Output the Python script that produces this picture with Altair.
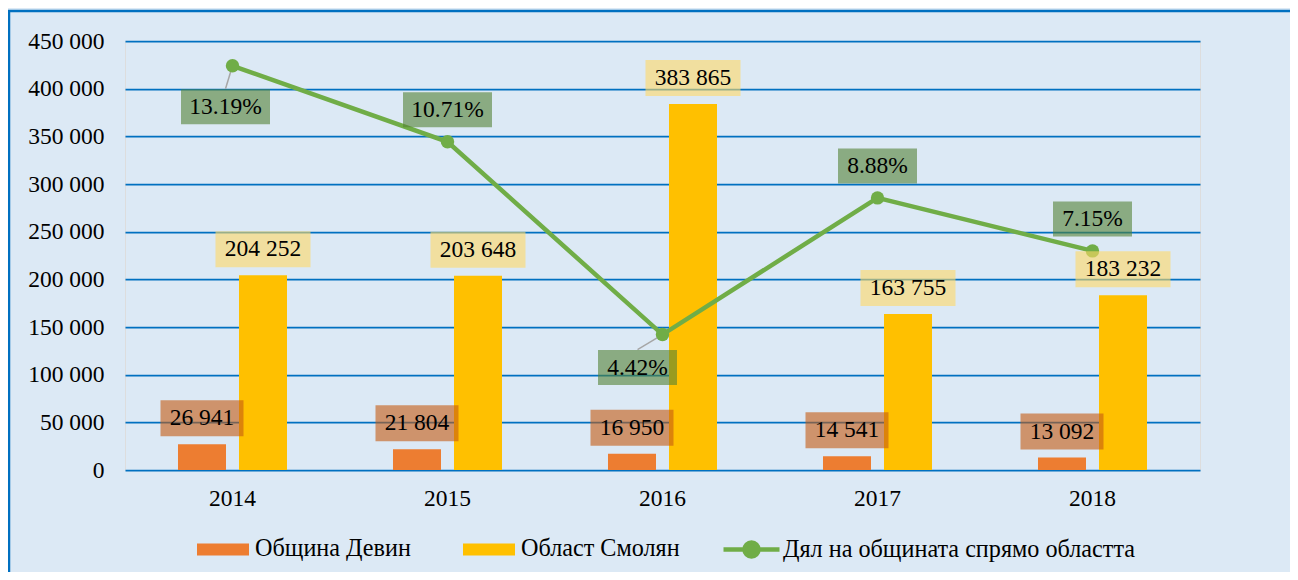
import altair as alt
import pandas as pd

# ---- data ----
years = ["2014", "2015", "2016", "2017", "2018"]
devin = [26941, 21804, 16950, 14541, 13092]
smolyan = [204252, 203648, 383865, 163755, 183232]
share = [0.1319, 0.1071, 0.0442, 0.0888, 0.0715]

S1 = "Община Девин"
S2 = "Област Смолян"
S3 = "Дял на общината спрямо областта"

bars_df = pd.DataFrame({
    "year": years * 2,
    "series": [S1] * len(years) + [S2] * len(years),
    "value": devin + smolyan,
})
line_df = pd.DataFrame({"year": years, "share": share, "series": [S3] * len(years)})

# ---- style ----
FONT = "'Liberation Serif', 'Times New Roman', serif"
FS = 23.5
LFS = 24.2
W, H = 1075, 429
BG = "#dce9f5"
GRID = "#0070c0"
ORANGE, YELLOW, GREEN = "#ed7d31", "#ffc000", "#70ad47"

x = alt.X("year:N",
          scale=alt.Scale(paddingInner=0.493, paddingOuter=0.2465),
          axis=alt.Axis(title=None, labelAngle=0, domain=False, ticks=False,
                        labelPadding=16, labelFont=FONT, labelFontSize=FS,
                        labelColor="black"))
xo = alt.XOffset("series:N", scale=alt.Scale(domain=[S1, S2], paddingInner=0.213, paddingOuter=0))

left_scale = alt.Scale(domain=[0, 450000], nice=False)
right_scale = alt.Scale(domain=[0, 0.14], nice=False)

yL = alt.Y("value:Q", scale=left_scale,
           axis=alt.Axis(title=None, values=list(range(0, 450001, 50000)), format=",d",
                         domain=False, ticks=False, labelPadding=21, grid=True,
                         gridColor=GRID, gridWidth=1.75, labelFont=FONT,
                         labelFontSize=FS, labelColor="black"))
yL_noaxis = alt.Y("value:Q", scale=left_scale, axis=None)

yR = alt.Y("share:Q", scale=right_scale,
           axis=alt.Axis(title=None, orient="right",
                         values=[0, 0.02, 0.04, 0.06, 0.08, 0.10, 0.12, 0.14],
                         format=".2%", domain=False, ticks=False, grid=False,
                         labelPadding=20, labelFont=FONT, labelFontSize=FS,
                         labelColor="black"))
yR_noaxis = alt.Y("share:Q", scale=right_scale, axis=None)

# ---- bars ----
bars = alt.Chart(bars_df).mark_bar().encode(
    x=x, y=yL, xOffset=xo,
    color=alt.Color("series:N", scale=alt.Scale(domain=[S1, S2], range=[ORANGE, YELLOW]),
                    legend=alt.Legend(orient="none", legendX=72, legendY=482,
                                      direction="horizontal", title=None,
                                      symbolType="M-1,-0.23H1V0.23H-1Z", symbolSize=2704,
                                      symbolStrokeWidth=0, labelOffset=6, columnPadding=52,
                                      labelFont=FONT, labelFontSize=LFS, labelColor="black",
                                      labelLimit=400)),
)

# ---- border decoration ----
one = pd.DataFrame({"a": [0]})
border_top = alt.Chart(one).mark_rule(color=GRID, strokeWidth=2.5).encode(
    x=alt.value(-117), x2=alt.value(1165), y=alt.value(-30))
border_left = alt.Chart(one).mark_rule(color=GRID, strokeWidth=2.5).encode(
    x=alt.value(-116), y=alt.value(-31), y2=alt.value(531))

left_group = alt.layer(bars, border_top, border_left)

# ---- line ----
line = alt.Chart(line_df).mark_line(strokeWidth=4.5, strokeCap="round").encode(
    x=x, y=yR,
    stroke=alt.Stroke("series:N", scale=alt.Scale(domain=[S3], range=[GREEN]),
                      legend=alt.Legend(orient="none", legendX=596, legendY=478, title=None,
                                        symbolType="M-1,0H1M0.25,0A0.25,0.25,0,1,1,-0.25,0A0.25,0.25,0,1,1,0.25,0Z",
                                        symbolSize=3136, symbolStrokeWidth=4.5,
                                        symbolFillColor=GREEN, labelOffset=1,
                                        labelFont=FONT, labelFontSize=LFS, labelColor="black",
                                        labelLimit=500)),
)
points = alt.Chart(line_df).mark_point(filled=True, size=180, color=GREEN, opacity=1).encode(x=x, y=yR)

# leader lines (pixel paths at size=4 -> unit scale)
leaders = []
LEADER = {"2014": "M0,0L-7,23", "2016": "M0,0L-25,15"}
for yr, path in LEADER.items():
    leaders.append(
        alt.Chart(line_df).transform_filter(alt.datum.year == yr)
        .mark_point(shape=path, size=4, filled=False, stroke="#a6a6a6", strokeWidth=1.5, opacity=1)
        .encode(x=x, y=yR_noaxis)
    )

right_group = alt.layer(*leaders, line, points)

# ---- bar labels ----
def box(w, h):
    return f"M{-w/2},{-h/2}H{w/2}V{h/2}H{-w/2}Z"

bar_label_layers = []
for s, w, col in [(S1, 83, "#c55a11"), (S2, 95, "#ffd966")]:
    base = alt.Chart(bars_df).transform_filter(alt.datum.series == s)
    bar_label_layers.append(
        base.mark_point(shape=box(w, 36), size=4, filled=True, fill=col, fillOpacity=0.6,
                        strokeWidth=0, opacity=1, yOffset=-26)
        .encode(x=x, y=yL_noaxis, xOffset=xo)
    )
    bar_label_layers.append(
        base.mark_text(font=FONT, fontSize=FS, color="black", baseline="middle", dy=-26)
        .encode(x=x, y=yL_noaxis, xOffset=xo, text=alt.Text("value:Q", format=",d"))
    )
bar_labels = alt.layer(*bar_label_layers)

# ---- share labels ----
PLACE = {"2014": (-7, 41), "2016": (-25, 33)}
share_layers = []
for yr, v in zip(years, share):
    dx, dy = PLACE.get(yr, (0, -32))
    txt = f"{v*100:.2f}%"
    w = 89 if len(txt) > 5 else 79
    base = alt.Chart(line_df).transform_filter(alt.datum.year == yr)
    share_layers.append(
        base.mark_point(shape=box(w, 35), size=4, filled=True, fill="#548235", fillOpacity=0.6,
                        strokeWidth=0, opacity=1, xOffset=dx, yOffset=dy)
        .encode(x=x, y=yR_noaxis)
    )
    share_layers.append(
        base.mark_text(font=FONT, fontSize=FS, color="black", baseline="middle", dx=dx, dy=dy)
        .encode(x=x, y=yR_noaxis, text=alt.Text("share:Q", format=".2%"))
    )
share_labels = alt.layer(*share_layers)

chart = alt.layer(left_group, right_group, bar_labels, share_labels).resolve_scale(
    y="independent"
).properties(
    width=W, height=H, autosize="none",
    padding={"left": 117, "top": 33, "right": 90, "bottom": 102},
    background=BG,
).configure_view(stroke=None).configure(
    font=FONT,
    locale={"number": {"decimal": ".", "thousands": " ", "grouping": [3], "currency": ["", ""]}}
)

chart.save("out.html", embed_options={"renderer": "svg", "actions": False})
